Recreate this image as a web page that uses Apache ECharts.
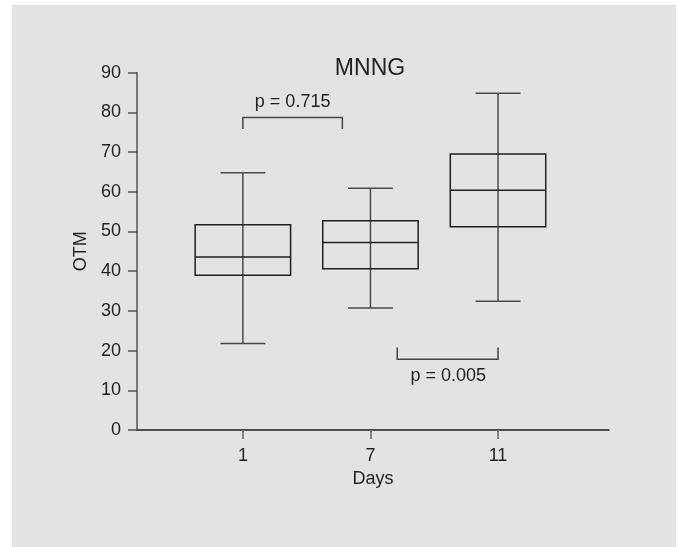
<!DOCTYPE html>
<html>
<head>
<meta charset="utf-8">
<script src="https://cdn.jsdelivr.net/npm/echarts@6/dist/echarts.min.js"></script>
<style>
html,body{margin:0;padding:0;background:#fff;}
#c{width:682px;height:547px;}
</style>
</head>
<body>
<div id="c"></div>
<script>
// ---- data ----
const categories = ['1', '7', '11'];            // Days
const whiskerLow  = [21.8, 30.7, 32.4];
const boxLow      = [39.0, 40.6, 51.2];
const medians     = [43.6, 47.2, 60.4];
const boxHigh     = [51.7, 52.7, 69.5];
const whiskerHigh = [64.8, 60.9, 84.8];
const yTicks = [0, 10, 20, 30, 40, 50, 60, 70, 80, 90];
const titleText = 'MNNG';
const xName = 'Days';
const yName = 'OTM';
// significance brackets: [xStart, xEnd, lineY, endY]  (x in category index units, 1-based)
const brackets = [[1, 1.78, 78.7, 75.8], [2.21, 3, 17.8, 20.8]];
const pLabels = ['p = 0.715', 'p = 0.005'];
const pLabelPos = [[1.39, 82.6], [2.61, 13.6]];

// ---- chart ----
const FONT = 'Liberation Sans, Arial, sans-serif';
const INK = '#1f1f1f';
const chart = echarts.init(document.getElementById('c'), null, {renderer: 'canvas'});

const boxData = categories.map((c, i) => [i + 1, whiskerLow[i], boxLow[i], medians[i], boxHigh[i], whiskerHigh[i]]);
const BOX_HALF = 0.374, CAP_HALF = 0.176;

chart.setOption({
  backgroundColor: '#ffffff',
  animation: false,
  graphic: [{
    type: 'rect', z: -10, silent: true,
    shape: {x: 12, y: 5, width: 664, height: 542},
    style: {fill: '#e3e3e3'}
  }],
  title: {
    text: titleText, left: 365, top: 52, textAlign: 'center',
    textStyle: {fontFamily: FONT, fontSize: 23, fontWeight: 'normal', color: INK}
  },
  grid: {left: 137, right: 73, top: 72.7, bottom: 117},
  xAxis: {
    type: 'value', min: 0.17, max: 3.87,
    name: xName, nameLocation: 'middle', nameGap: 38,
    nameTextStyle: {fontFamily: FONT, fontSize: 18, color: INK},
    splitLine: {show: false},
    axisLine: {show: true, onZero: false, lineStyle: {color: INK, width: 1.5}},
    axisTick: {show: true, customValues: [1, 2, 3], length: 9, lineStyle: {color: '#666', width: 1.5}},
    axisLabel: {
      customValues: [1, 2, 3], margin: 17,
      fontFamily: FONT, fontSize: 18, color: INK,
      formatter: v => categories[Math.round(v) - 1] || ''
    }
  },
  yAxis: {
    type: 'value', min: 0, max: 90, interval: 10,
    name: yName, nameLocation: 'middle', nameGap: 45, nameRotate: 90,
    nameTextStyle: {fontFamily: FONT, fontSize: 18, color: INK},
    splitLine: {show: false},
    axisLine: {show: true, lineStyle: {color: '#555', width: 1.5}},
    axisTick: {show: true, length: 9, lineStyle: {color: '#555', width: 1.5}},
    axisLabel: {
      margin: 16, fontFamily: FONT, fontSize: 18, color: INK,
      formatter: v => yTicks.indexOf(v) >= 0 ? String(v) : ''
    }
  },
  series: [
    {
      type: 'custom',
      data: boxData,
      renderItem: function (params, api) {
        const x = api.value(0);
        const wl = api.coord([x, api.value(1)]);
        const bl = api.coord([x, api.value(2)]);
        const md = api.coord([x, api.value(3)]);
        const bh = api.coord([x, api.value(4)]);
        const wh = api.coord([x, api.value(5)]);
        const bxL = api.coord([x - BOX_HALF, 0])[0];
        const bxR = api.coord([x + BOX_HALF, 0])[0];
        const cL = api.coord([x - CAP_HALF, 0])[0];
        const cR = api.coord([x + CAP_HALF, 0])[0];
        const wStyle = {stroke: '#4a4a4a', lineWidth: 1.5};
        const bStyle = {stroke: INK, lineWidth: 1.5, fill: null};
        return {
          type: 'group',
          children: [
            {type: 'line', shape: {x1: wl[0], y1: wl[1], x2: wh[0], y2: wh[1]}, style: wStyle},
            {type: 'line', shape: {x1: cL, y1: wl[1], x2: cR, y2: wl[1]}, style: wStyle},
            {type: 'line', shape: {x1: cL, y1: wh[1], x2: cR, y2: wh[1]}, style: wStyle},
            {type: 'rect', shape: {x: bxL, y: bh[1], width: bxR - bxL, height: bl[1] - bh[1]}, style: bStyle},
            {type: 'line', shape: {x1: bxL, y1: md[1], x2: bxR, y2: md[1]}, style: {stroke: INK, lineWidth: 1.5}}
          ]
        };
      }
    },
    {
      type: 'custom',
      data: brackets,
      renderItem: function (params, api) {
        const a = api.coord([api.value(0), api.value(2)]);
        const b = api.coord([api.value(1), api.value(2)]);
        const e = api.coord([api.value(0), api.value(3)]);
        const i = params.dataIndex;
        const lp = api.coord(pLabelPos[i]);
        const st = {stroke: '#444', lineWidth: 1.5, fill: null};
        return {
          type: 'group',
          children: [
            {type: 'polyline', shape: {points: [[a[0], e[1]], a, b, [b[0], e[1]]]}, style: st},
            {type: 'text', x: lp[0], y: lp[1], style: {text: pLabels[i], fontFamily: FONT, fontSize: 18, fill: INK, align: 'center', verticalAlign: 'middle'}}
          ]
        };
      }
    }
  ]
});
</script>
</body>
</html>
